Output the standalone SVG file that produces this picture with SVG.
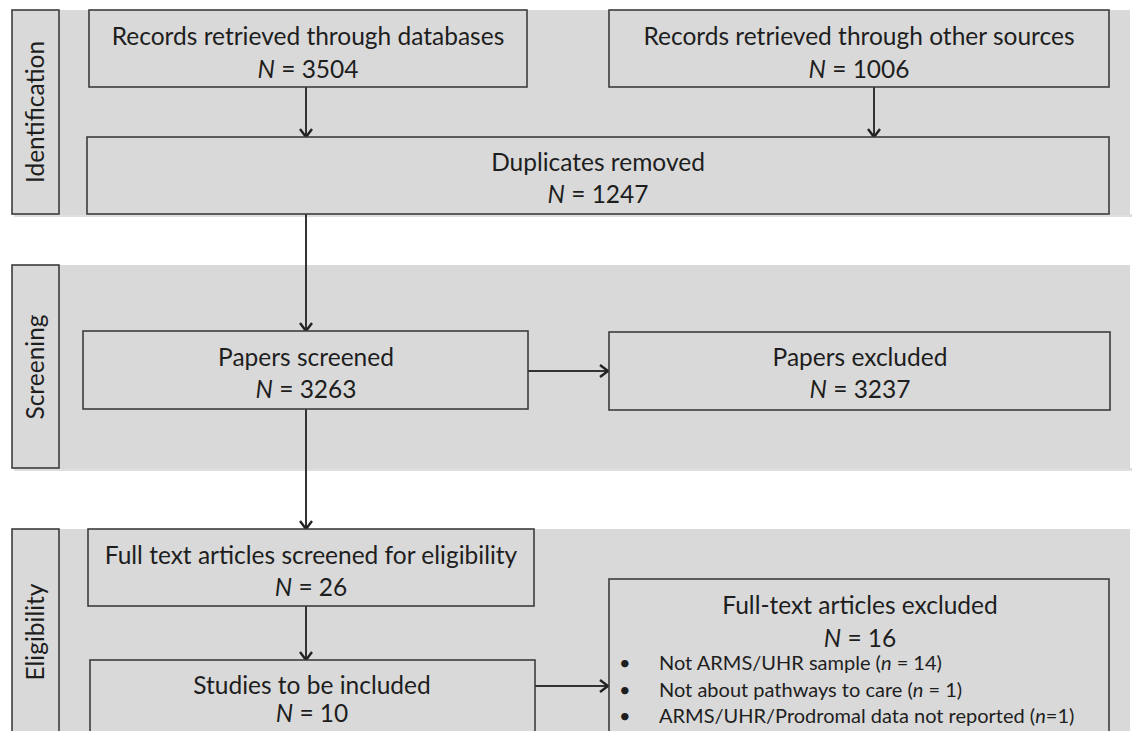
<svg xmlns="http://www.w3.org/2000/svg" width="1134" height="731" viewBox="0 0 1134 731">
  <style>
    .band { fill: #d9d9d9; }
    .shadow { fill: #c9c9c9; }
    .box { fill: #d9d9d9; stroke: #3c3c3c; stroke-width: 1.6; }
    .t { font-family: Lato, "Liberation Sans", sans-serif; font-size: 24.5px; fill: #1e1e1e; text-anchor: middle; }
    .lane { font-family: Lato, "Liberation Sans", sans-serif; font-size: 24.5px; fill: #1e1e1e; text-anchor: middle; }
    .b { font-family: Lato, "Liberation Sans", sans-serif; font-size: 20px; fill: #1e1e1e; }
    .it { font-style: italic; }
    .edge { fill: none; stroke: #333; stroke-width: 2; }
  </style>
  <defs>
    <marker id="arrow" markerWidth="12" markerHeight="14" refX="10" refY="7" orient="auto" markerUnits="userSpaceOnUse">
      <path d="M2,1 L10,7 L2,13" fill="none" stroke="#222" stroke-width="2.4"/>
    </marker>
  </defs>

  <rect width="1134" height="731" fill="#ffffff"/>

  <!-- Phase bands -->
  <g id="bands">
    <rect class="shadow" x="14" y="214" width="1118" height="3" opacity="0.6"/>
    <rect class="band" x="12" y="10" width="1118" height="205"/>
    <rect class="shadow" x="14" y="468" width="1118" height="3" opacity="0.6"/>
    <rect class="band" x="12" y="265" width="1118" height="204"/>
    <rect class="band" x="12" y="529" width="1118" height="210"/>
  </g>

  <!-- Phase labels -->
  <g id="lane-identification">
    <rect class="box" x="12" y="10" width="47" height="204"/>
    <text class="lane" transform="translate(44,112) rotate(-90)">Identification</text>
  </g>
  <g id="lane-screening">
    <rect class="box" x="12" y="265" width="47" height="203"/>
    <text class="lane" transform="translate(44,367) rotate(-90)">Screening</text>
  </g>
  <g id="lane-eligibility">
    <rect class="box" x="12" y="529" width="47" height="215"/>
    <text class="lane" transform="translate(44,632) rotate(-90)">Eligibility</text>
  </g>

  <!-- Connectors -->
  <g id="connectors">
    <line class="edge" x1="306" y1="87" x2="306" y2="137" marker-end="url(#arrow)"/>
    <line class="edge" x1="874" y1="87" x2="874" y2="137" marker-end="url(#arrow)"/>
    <line class="edge" x1="306" y1="214" x2="306" y2="331" marker-end="url(#arrow)"/>
    <line class="edge" x1="528" y1="371" x2="608" y2="371" marker-end="url(#arrow)"/>
    <line class="edge" x1="306" y1="409" x2="306" y2="529" marker-end="url(#arrow)"/>
    <line class="edge" x1="306" y1="606" x2="306" y2="660" marker-end="url(#arrow)"/>
    <line class="edge" x1="535" y1="686" x2="608" y2="686" marker-end="url(#arrow)"/>
  </g>

  <!-- Nodes -->
  <g id="records-databases">
    <rect class="box" x="89" y="10" width="438" height="77"/>
    <text class="t" x="308" y="45">Records retrieved through databases</text>
    <text class="t" x="308" y="78"><tspan class="it">N</tspan> = 3504</text>
  </g>
  <g id="records-other">
    <rect class="box" x="609" y="10" width="500" height="77"/>
    <text class="t" x="859" y="45">Records retrieved through other sources</text>
    <text class="t" x="859" y="78"><tspan class="it">N</tspan> = 1006</text>
  </g>
  <g id="duplicates-removed">
    <rect class="box" x="87" y="137" width="1022" height="77"/>
    <text class="t" x="598" y="171">Duplicates removed</text>
    <text class="t" x="598" y="203"><tspan class="it">N</tspan> = 1247</text>
  </g>
  <g id="papers-screened">
    <rect class="box" x="83" y="331" width="445" height="78"/>
    <text class="t" x="306" y="366">Papers screened</text>
    <text class="t" x="306" y="398"><tspan class="it">N</tspan> = 3263</text>
  </g>
  <g id="papers-excluded">
    <rect class="box" x="609" y="332" width="501" height="78"/>
    <text class="t" x="860" y="366">Papers excluded</text>
    <text class="t" x="860" y="398"><tspan class="it">N</tspan> = 3237</text>
  </g>
  <g id="fulltext-screened">
    <rect class="box" x="88" y="529" width="446" height="77"/>
    <text class="t" x="311" y="564">Full text articles screened for eligibility</text>
    <text class="t" x="311" y="596"><tspan class="it">N</tspan> = 26</text>
  </g>
  <g id="studies-included">
    <rect class="box" x="90" y="660" width="445" height="90"/>
    <text class="t" x="312" y="694">Studies to be included</text>
    <text class="t" x="312" y="722"><tspan class="it">N</tspan> = 10</text>
  </g>
  <g id="fulltext-excluded">
    <rect class="box" x="609" y="579" width="500" height="170"/>
    <text class="t" x="860" y="614">Full-text articles excluded</text>
    <text class="t" x="860" y="647"><tspan class="it">N</tspan> = 16</text>
    <text class="b" x="619" y="670">•</text>
    <text class="b" x="659" y="670">Not ARMS/UHR sample (<tspan class="it">n</tspan> = 14)</text>
    <text class="b" x="619" y="697">•</text>
    <text class="b" x="659" y="697">Not about pathways to care (<tspan class="it">n</tspan> = 1)</text>
    <text class="b" x="619" y="723">•</text>
    <text class="b" x="659" y="723">ARMS/UHR/Prodromal data not reported (<tspan class="it">n</tspan>=1)</text>
  </g>
</svg>
